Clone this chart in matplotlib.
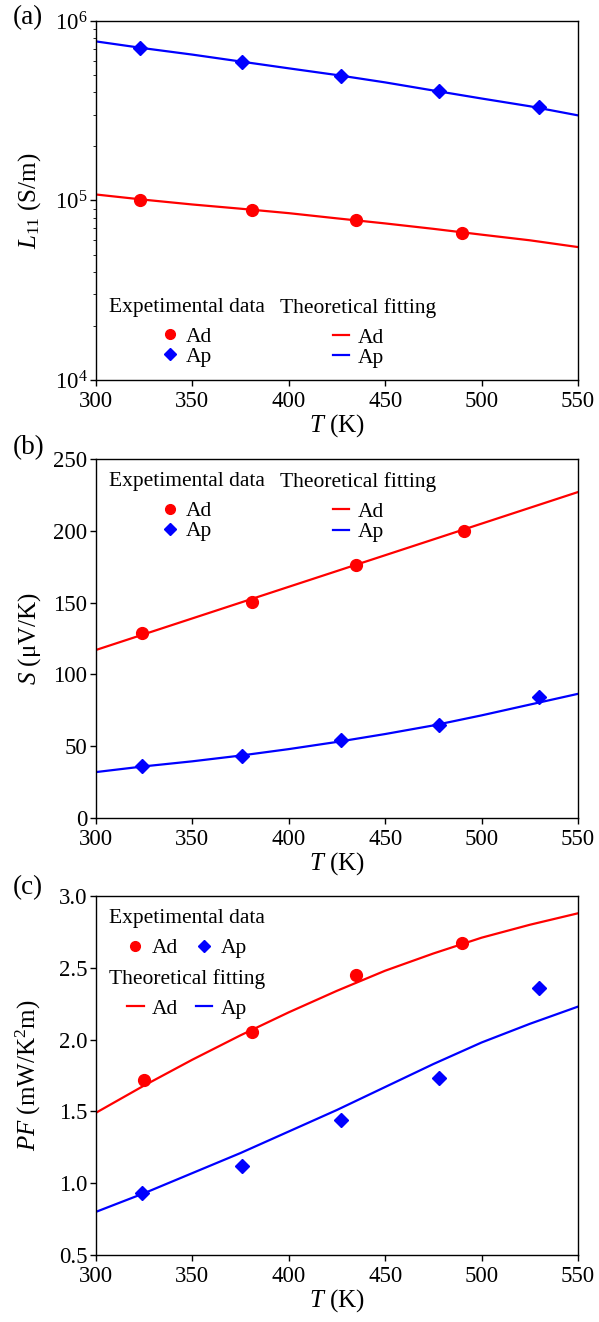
import matplotlib
matplotlib.use("Agg")
import matplotlib.pyplot as plt
from matplotlib.lines import Line2D
from matplotlib.legend import Legend
from matplotlib.ticker import FormatStrFormatter

plt.rcParams['font.family'] = ['Liberation Serif', 'DejaVu Serif']
plt.rcParams['mathtext.fontset'] = 'custom'
plt.rcParams['mathtext.rm'] = 'Liberation Serif'
plt.rcParams['mathtext.it'] = 'Liberation Serif:italic'
plt.rcParams['font.size'] = 16

# ---- data ----
# (a) L11 (S/m)
t_ad_a = [323, 381, 435, 490]
l11_ad = [1.01e5, 0.89e5, 0.775e5, 0.655e5]
t_ap_a = [323, 376, 427, 478, 530]
l11_ap = [7.1e5, 5.94e5, 4.97e5, 4.05e5, 3.3e5]
t_fit = [300, 325, 350, 375, 400, 425, 450, 475, 500, 525, 550]
l11_ad_fit = [1.08e5, 1.01e5, 0.95e5, 0.90e5, 0.85e5, 0.795e5, 0.745e5, 0.695e5, 0.645e5, 0.60e5, 0.55e5]
l11_ap_fit = [7.7e5, 7.05e5, 6.5e5, 5.95e5, 5.45e5, 5.0e5, 4.55e5, 4.1e5, 3.7e5, 3.35e5, 2.98e5]

# (b) S (uV/K)
t_ad_b = [324, 381, 435, 491]
s_ad = [129, 150.5, 176, 200]
t_ap_b = [324, 376, 427, 478, 530]
s_ap = [36, 43.5, 54, 65, 84]
s_ad_fit = [117, 128, 139, 150, 161, 172, 183, 194, 205, 216, 227]
s_ap_fit = [32, 36, 39.5, 43.5, 48, 53, 58.5, 64.5, 71.5, 79, 86.5]

# (c) PF (mW/K^2m)
t_ad_c = [325, 381, 435, 490]
pf_ad = [1.72, 2.05, 2.45, 2.67]
t_ap_c = [324, 376, 427, 478, 530]
pf_ap = [0.93, 1.12, 1.44, 1.73, 2.36]
pf_ad_fit = [1.49, 1.68, 1.86, 2.03, 2.19, 2.34, 2.48, 2.60, 2.71, 2.80, 2.88]
pf_ap_fit = [0.80, 0.93, 1.07, 1.21, 1.36, 1.51, 1.67, 1.83, 1.98, 2.11, 2.23]

RED = '#ff0000'
BLUE = '#0000ff'

fig = plt.figure(figsize=(5.99, 13.22), dpi=100)
L, W = 0.160, 0.805
ax1 = fig.add_axes([L, 0.7126, W, 0.2715])
ax2 = fig.add_axes([L, 0.3812, W, 0.2716])
ax3 = fig.add_axes([L, 0.0507, W, 0.2715])


def draw(ax, tad, yad, tap, yap, adfit, apfit):
    ax.plot(t_fit, adfit, color=RED, lw=1.6, zorder=2)
    ax.plot(t_fit, apfit, color=BLUE, lw=1.6, zorder=2)
    ax.plot(tad, yad, 'o', color=RED, ms=8.5, ls='none', zorder=3)
    ax.plot(tap, yap, 'D', color=BLUE, ms=7.5, ls='none', zorder=3)
    ax.set_xlim(300, 550)
    ax.set_xticks([300, 350, 400, 450, 500, 550])
    ax.set_xlabel('$T$ (K)', fontsize=18, labelpad=0)
    ax.tick_params(direction='out', length=4, width=1, labelsize=16.5, pad=2)
    ax.tick_params(axis='x', pad=4)
    for s in ax.spines.values():
        s.set_linewidth(1.0)


draw(ax1, t_ad_a, l11_ad, t_ap_a, l11_ap, l11_ad_fit, l11_ap_fit)
ax1.set_yscale('log')
ax1.set_ylim(1e4, 1e6)
ax1.tick_params(which='minor', direction='out', length=2.5)
ax1.set_ylabel('$L_{11}$ (S/m)', fontsize=18)

draw(ax2, t_ad_b, s_ad, t_ap_b, s_ap, s_ad_fit, s_ap_fit)
ax2.set_ylim(0, 250)
ax2.set_yticks([0, 50, 100, 150, 200, 250])
ax2.set_ylabel('$S$ (μV/K)', fontsize=18)

draw(ax3, t_ad_c, pf_ad, t_ap_c, pf_ap, pf_ad_fit, pf_ap_fit)
ax3.set_ylim(0.5, 3.0)
ax3.set_yticks([0.5, 1.0, 1.5, 2.0, 2.5, 3.0])
ax3.yaxis.set_major_formatter(FormatStrFormatter('%.1f'))
ax3.set_ylabel('$PF$ (mW/K$^2$m)', fontsize=18)

for ax in (ax1, ax2, ax3):
    ax.yaxis.set_label_coords(-0.11, 0.5)

# legend handles
h_ad = Line2D([], [], marker='o', color=RED, ls='none', ms=7)
h_ap = Line2D([], [], marker='D', color=BLUE, ls='none', ms=6)
f_ad = Line2D([], [], color=RED, lw=1.6)
f_ap = Line2D([], [], color=BLUE, lw=1.6)

kw = dict(frameon=False, fontsize=15.5, title_fontsize=15.5, handlelength=0.75,
          handletextpad=0.4, labelspacing=0.0, borderpad=0.2, borderaxespad=0)


def legend(ax, title, handles, x, ytop, ncol=1):
    lg = Legend(ax, handles, ['Ad', 'Ap'], title=title, ncol=ncol,
                columnspacing=0.8, loc='upper center',
                bbox_to_anchor=(x, ytop), **kw)
    lg._legend_box.sep = 7  # gap between title and entries
    ax.add_artist(lg)
    return lg


legend(ax1, 'Expetimental data', [h_ad, h_ap], 0.189, 0.24)
legend(ax1, 'Theoretical fitting', [f_ad, f_ap], 0.544, 0.24)
legend(ax2, 'Expetimental data', [h_ad, h_ap], 0.189, 0.975)
legend(ax2, 'Theoretical fitting', [f_ad, f_ap], 0.544, 0.975)
legend(ax3, 'Expetimental data', [h_ad, h_ap], 0.189, 0.975, ncol=2)
legend(ax3, 'Theoretical fitting', [f_ad, f_ap], 0.189, 0.808, ncol=2)

# panel letters, offsets given in pixels (dpi 100)
px = 72 / 100
for ax, lab, dy in zip((ax1, ax2, ax3), ('(a)', '(b)', '(c)'), (3, 11, 8)):
    ax.annotate(lab, xy=(0, 1), xycoords='axes fraction',
                xytext=((13 - 96) * px, dy * px), textcoords='offset points',
                fontsize=19.5, ha='left', va='center')

fig.savefig('out.png', dpi=100)
